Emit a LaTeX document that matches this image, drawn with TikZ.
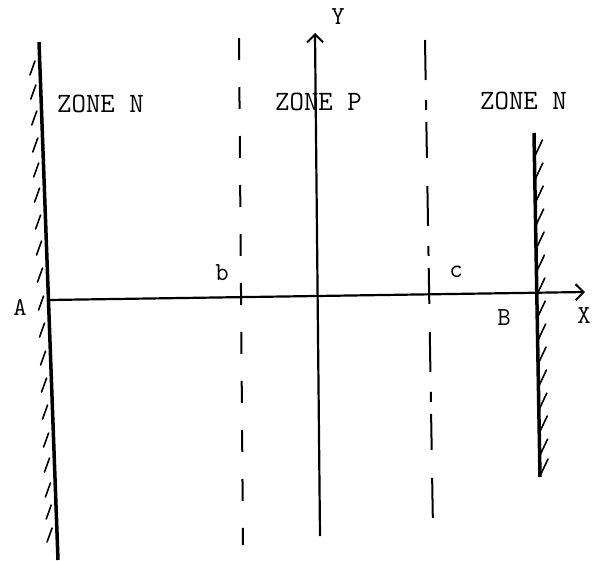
\documentclass[tikz,border=0pt]{standalone}
\usetikzlibrary{arrows.meta}
\begin{document}
\begin{tikzpicture}[x=1pt,y=-1pt,
  wall/.style={line width=3.5pt},
  axis/.style={line width=2.2pt},
  hatch/.style={line width=1.6pt, line cap=round},
  sepline/.style={line width=2pt},
  zone/.style={font=\fontsize{28}{30}\selectfont\ttfamily, inner sep=0pt, anchor=base west},
  lbl/.style={font=\fontsize{26}{28}\selectfont\ttfamily, inner sep=0pt, anchor=base},
  tip/.style={-{Straight Barb[length=8pt,width=16pt,line width=2pt]}}]
\useasboundingbox (0,0) rectangle (592,560);
% left wall with hatching
\coordinate (LWtop) at (39,42);
\coordinate (LWbot) at (58,560);
\draw[wall] (LWtop) -- (LWbot);
\foreach \y in {68,92,118,145,170,195,222,248,275,303,330,358,385,412,440,465,490,512,535} {
  \pgfmathsetmacro\xx{39+(\y-42)*19/518}
  \draw[hatch] (\xx-10,\y+7) -- (\xx-5,\y-7);
}
% right wall with hatching
\coordinate (RWtop) at (534,133);
\coordinate (RWbot) at (540,477);
\draw[wall] (RWtop) -- (RWbot);
\foreach \y in {157,180,203,226,249,272,295,318,341,364,387,410,433,456,476} {
  \pgfmathsetmacro\xx{534+(\y-133)*6/344}
  \draw[hatch] (\xx,\y) -- (\xx+8,\y-17);
}
% dashed junction lines
\coordinate (btop) at (239,38);
\coordinate (bbot) at (243,545);
\draw[sepline, dash pattern=on 22pt off 27pt] (btop) -- (bbot);
\coordinate (ctop) at (425,40);
\coordinate (cbot) at (433,530);
\draw[sepline, dash pattern=on 40pt off 20pt on 10pt off 12pt on 36pt off 28pt] (ctop) -- (cbot);
% axes
\coordinate (Aorig) at (48,300);
\coordinate (Xend) at (585,292);
\draw[axis,tip] (Aorig) -- (Xend);
\coordinate (Ybot) at (320,536);
\coordinate (Ytop) at (315,33);
\draw[axis,tip] (Ybot) -- (Ytop);
% labels
\node[zone] (zn1) at (57,112) {ZONE N};
\node[zone] (zp) at (275,110) {ZONE P};
\node[zone] (zn2) at (480,109) {ZONE N};
\node[lbl] (lA) at (20,315) {A};
\node[lbl] (lb) at (222,280) {b};
\node[lbl] (lc) at (456,277) {c};
\node[lbl] (lB) at (504,325) {B};
\node[lbl] (lX) at (584,323) {X};
\node[lbl] (lY) at (338,24) {Y};
\end{tikzpicture}
\end{document}
